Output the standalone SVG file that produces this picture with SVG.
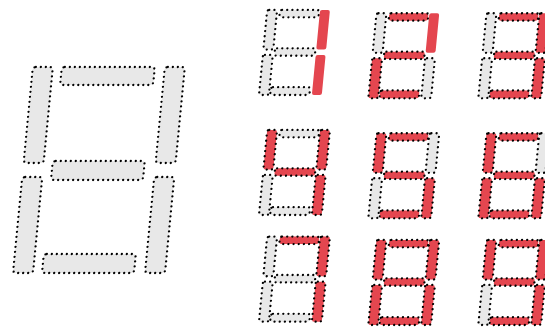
<svg xmlns="http://www.w3.org/2000/svg" width="545" height="329" viewBox="0 0 545 329">
<style>
.on{fill:#e4464f}
.off{fill:#e8e8e8}
.dot{stroke:#000;stroke-width:2.3;stroke-dasharray:0 5;stroke-linecap:round}
.sdot{stroke:#000;stroke-width:5.6;stroke-dasharray:0 12.5;stroke-linecap:round}
.nodot{stroke:none}
</style>
<defs>
<rect id="a" x="29" y="-206" width="93" height="18" rx="3"/>
<rect id="b" x="132" y="-206" width="20" height="96" rx="3"/>
<rect id="c" x="132" y="-96" width="20" height="96" rx="3"/>
<rect id="d" x="29" y="-19" width="92" height="19" rx="3"/>
<rect id="e" x="0" y="-96" width="20" height="96" rx="3"/>
<rect id="f" x="0" y="-206" width="20" height="96" rx="3"/>
<rect id="g" x="29" y="-112" width="92" height="19" rx="3"/>
<rect id="sa" x="31" y="-206" width="95" height="18" rx="5"/>
<rect id="sb" x="128" y="-206" width="24" height="96" rx="5"/>
<rect id="sc" x="128" y="-97" width="24" height="97" rx="5"/>
<rect id="sd" x="27" y="-19" width="95" height="19" rx="5"/>
<rect id="se" x="0" y="-97" width="24" height="97" rx="5"/>
<rect id="sf" x="0" y="-206" width="24" height="96" rx="5"/>
<rect id="sg" x="28" y="-113" width="98" height="18" rx="5"/>
</defs>
<g id="big" transform="translate(13,273) skewX(-5.5)">
<use href="#a" class="off dot"/><use href="#b" class="off dot"/><use href="#c" class="off dot"/><use href="#d" class="off dot"/><use href="#e" class="off dot"/><use href="#f" class="off dot"/><use href="#g" class="off dot"/>
</g>
<g id="digit1" transform="translate(259,95) scale(0.413) skewX(-5.5)">
<use href="#sa" class="off sdot"/><use href="#sb" class="on nodot"/><use href="#sc" class="on nodot"/><use href="#sd" class="off sdot"/><use href="#se" class="off sdot"/><use href="#sf" class="off sdot"/><use href="#sg" class="off sdot"/>
</g>
<g id="digit2" transform="translate(368.3,98.3) scale(0.413) skewX(-5.5)">
<use href="#sa" class="on sdot"/><use href="#sb" class="on nodot"/><use href="#sc" class="off sdot"/><use href="#sd" class="on sdot"/><use href="#se" class="on sdot"/><use href="#sf" class="off sdot"/><use href="#sg" class="on sdot"/>
</g>
<g id="digit3" transform="translate(478.3,98.3) scale(0.413) skewX(-5.5)">
<use href="#sa" class="on sdot"/><use href="#sb" class="on sdot"/><use href="#sc" class="on sdot"/><use href="#sd" class="on sdot"/><use href="#se" class="off sdot"/><use href="#sf" class="off sdot"/><use href="#sg" class="on sdot"/>
</g>
<g id="digit4" transform="translate(259,215) scale(0.413) skewX(-5.5)">
<use href="#sa" class="off sdot"/><use href="#sb" class="on sdot"/><use href="#sc" class="on sdot"/><use href="#sd" class="off sdot"/><use href="#se" class="off sdot"/><use href="#sf" class="on sdot"/><use href="#sg" class="on sdot"/>
</g>
<g id="digit5" transform="translate(368.3,218.3) scale(0.413) skewX(-5.5)">
<use href="#sa" class="on sdot"/><use href="#sb" class="off sdot"/><use href="#sc" class="on sdot"/><use href="#sd" class="on sdot"/><use href="#se" class="off sdot"/><use href="#sf" class="on sdot"/><use href="#sg" class="on sdot"/>
</g>
<g id="digit6" transform="translate(478.3,218.3) scale(0.413) skewX(-5.5)">
<use href="#sa" class="on sdot"/><use href="#sb" class="off sdot"/><use href="#sc" class="on sdot"/><use href="#sd" class="on sdot"/><use href="#se" class="on sdot"/><use href="#sf" class="on sdot"/><use href="#sg" class="on sdot"/>
</g>
<g id="digit7" transform="translate(259,321.7) scale(0.413) skewX(-5.5)">
<use href="#sa" class="on sdot"/><use href="#sb" class="on sdot"/><use href="#sc" class="on sdot"/><use href="#sd" class="off sdot"/><use href="#se" class="off sdot"/><use href="#sf" class="off sdot"/><use href="#sg" class="off sdot"/>
</g>
<g id="digit8" transform="translate(368.3,325) scale(0.413) skewX(-5.5)">
<use href="#sa" class="on sdot"/><use href="#sb" class="on sdot"/><use href="#sc" class="on sdot"/><use href="#sd" class="on sdot"/><use href="#se" class="on sdot"/><use href="#sf" class="on sdot"/><use href="#sg" class="on sdot"/>
</g>
<g id="digit9" transform="translate(478.3,325) scale(0.413) skewX(-5.5)">
<use href="#sa" class="on sdot"/><use href="#sb" class="on sdot"/><use href="#sc" class="on sdot"/><use href="#sd" class="on sdot"/><use href="#se" class="off sdot"/><use href="#sf" class="on sdot"/><use href="#sg" class="on sdot"/>
</g>
<g id="connectors"/>
</svg>
